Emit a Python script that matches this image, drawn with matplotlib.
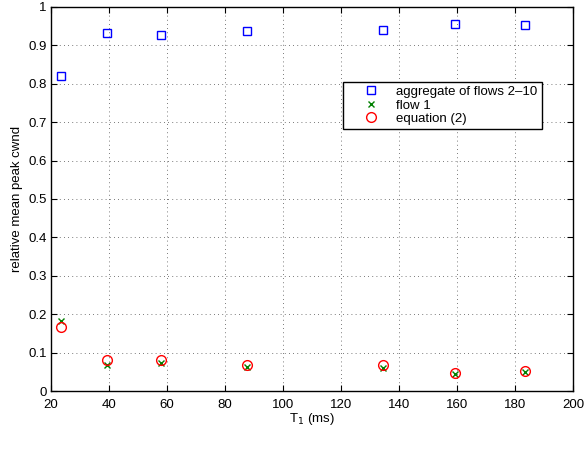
import matplotlib
matplotlib.use("Agg")
import matplotlib.pyplot as plt

plt.rcParams['font.family'] = ['Liberation Sans', 'DejaVu Sans']

# delay of flow 1 (ms)
t1 = [23.5, 39.5, 58, 87.5, 134.5, 159.5, 183.5]
# measured relative mean peak cwnd
aggregate = [0.8195, 0.932, 0.928, 0.938, 0.940, 0.956, 0.954]
flow1 = [0.181, 0.069, 0.073, 0.063, 0.061, 0.0455, 0.049]
# prediction from equation (2)
equation = [0.1667, 0.0805, 0.080, 0.0675, 0.0667, 0.048, 0.053]

fig = plt.figure(figsize=(5.84, 4.57), dpi=100)
ax = fig.add_axes([0.087, 0.1444, 0.894, 0.8405])

ax.plot(t1, aggregate, linestyle='none', marker='s', markersize=5.5,
        markerfacecolor='none', markeredgecolor='blue', markeredgewidth=1.0,
        label='aggregate of flows 2\u201310')
ax.plot(t1, flow1, linestyle='none', marker='x', markersize=4.5,
        color=(0, 0.5, 0), markeredgewidth=1.0, label='flow 1')
ax.plot(t1, equation, linestyle='none', marker='o', markersize=7,
        markerfacecolor='none', markeredgecolor='red', markeredgewidth=1.0,
        label='equation (2)')

ax.set_xlim(20, 200)
ax.set_ylim(0, 1)
ax.set_xticks(range(20, 201, 20))
ax.set_yticks([i / 10 for i in range(11)])
ax.set_yticklabels(['0'] + ['%.1f' % (i / 10) for i in range(1, 10)] + ['1'])
ax.tick_params(direction='in', top=True, right=True, labelsize=9.5, length=4)
ax.tick_params(axis='x', pad=6)
ax.tick_params(axis='y', pad=3)
ax.grid(True, linestyle=(0, (1, 4)), color='0.3', linewidth=0.6)
for s in ax.spines.values():
    s.set_linewidth(1.0)

ax.set_xlabel('T$_1$ (ms)', fontsize=9.5, labelpad=0)
ax.set_ylabel('relative mean peak cwnd', fontsize=9.5, labelpad=4)

leg = ax.legend(loc='upper right', bbox_to_anchor=(0.94, 0.805), fontsize=9.5,
                frameon=True, fancybox=False, edgecolor='black', framealpha=1,
                borderpad=0.3, labelspacing=0.1, handlelength=3.6,
                handletextpad=0.15, borderaxespad=0)
leg.get_frame().set_linewidth(1.0)

fig.savefig('out.png', dpi=100)
